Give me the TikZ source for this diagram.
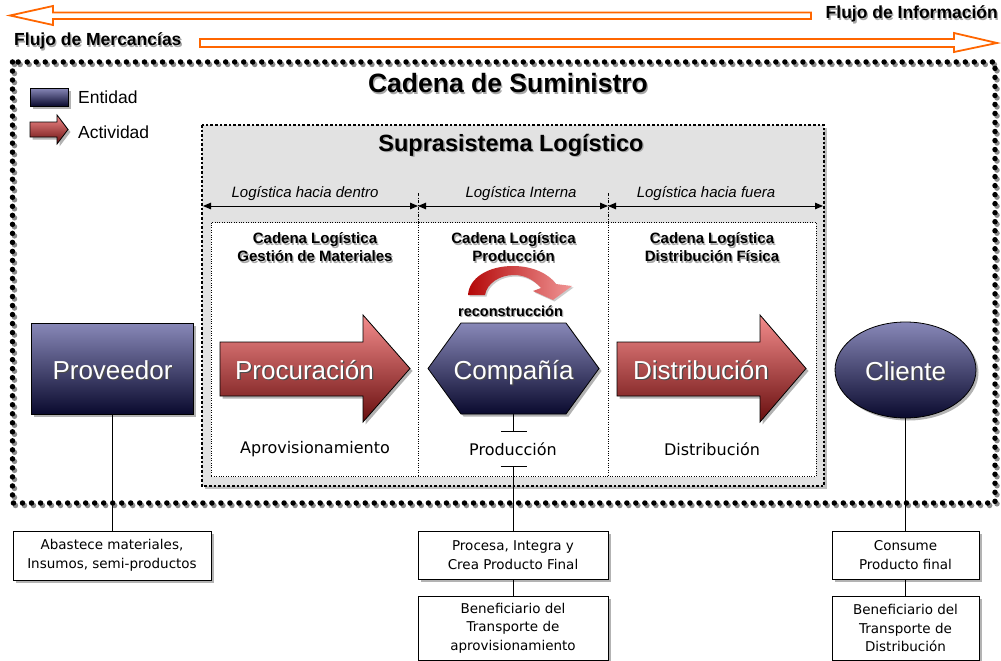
\documentclass[tikz,border=0pt]{standalone}
\usepackage{fontspec}
\setmainfont{Liberation Sans}
\newfontfamily\comic{DejaVu Sans}
\usetikzlibrary{shapes.geometric,shadows,arrows.meta}
\definecolor{entTop}{RGB}{136,136,184}
\definecolor{entBot}{RGB}{10,10,46}
\definecolor{actTop}{RGB}{244,140,140}
\definecolor{actBot}{RGB}{104,14,14}
\definecolor{recL}{RGB}{180,8,8}
\definecolor{recR}{RGB}{240,150,150}
\definecolor{flow}{RGB}{255,102,0}
\definecolor{supra}{RGB}{226,226,226}
\newcommand{\dsh}[2][black!35]{\leavevmode\rlap{\kern1.3pt\raisebox{-1.3pt}{\textcolor{#1}{#2}}}#2}
\newcommand{\wsh}[1]{\dsh[black!70]{#1}}
\tikzset{
  shsh/.style={drop shadow={shadow xshift=2.5pt,shadow yshift=-2.5pt,fill=black!50,opacity=0.6}},
  entity/.style={shsh,draw=black,line width=0.8pt,top color=entTop,bottom color=entBot},
  activity/.style={shsh,draw=black,line width=0.8pt,top color=actTop,bottom color=actBot},
  bigwhite/.style={inner sep=0pt,anchor=base,text=white,font=\fontsize{26}{30}\selectfont},
  flowarrow/.style={draw=flow,line width=1.8pt,fill=white,line join=miter},
  dimarrow/.style={line width=1pt,{Triangle[length=8pt,width=6.5pt]}-{Triangle[length=8pt,width=6.5pt]}},
  italabel/.style={inner sep=0pt,font=\itshape\fontsize{15}{18}\selectfont},
  colhead/.style={inner sep=0pt,align=center,font=\bfseries\fontsize{15}{18}\selectfont},
  comiclabel/.style={inner sep=0pt,font=\comic\fontsize{16}{19}\selectfont},
  infobox/.style={shsh,draw=black,line width=0.9pt,fill=white,align=center,inner sep=0pt,
    font=\comic\fontsize{13.5}{18.5}\selectfont},
  conn/.style={line width=0.9pt,black},
  legtext/.style={inner sep=0pt,anchor=west,font=\fontsize{17.5}{20}\selectfont},
}
\begin{document}
\begin{tikzpicture}[x=1pt,y=-1pt]
\useasboundingbox (0,0) rectangle (1001,661);

% ---- flow arrows ----
\path[flowarrow] (10,15.5) -- (53,6) -- (53,12.5) -- (811,12.5) -- (811,19) -- (53,19) -- (53,25) -- cycle;
\node[inner sep=0pt,anchor=east,font=\bfseries\fontsize{17.5}{20}\selectfont] (finfo) at (998,15) {\dsh{Flujo de Información}};
\path[flowarrow] (200,39) -- (954,39) -- (954,33) -- (997,43) -- (954,52) -- (954,47) -- (200,47) -- cycle;
\node[inner sep=0pt,anchor=west,font=\bfseries\fontsize{17.5}{20}\selectfont] (fmerc) at (14,42) {\dsh{Flujo de Mercancías}};

% ---- outer dotted border ----
\draw[black!45,line width=5.5pt,line cap=round,dash pattern=on 0pt off 9.02pt] (14.5,64.5) rectangle (997,505.5);
\draw[black,line width=5.5pt,line cap=round,dash pattern=on 0pt off 9.02pt] (12.5,62) rectangle (995,503);
\node[inner sep=0pt,font=\bfseries\fontsize{26.5}{30}\selectfont] (title) at (508,84) {\dsh{Cadena de Suministro}};

% ---- legend ----
\node[entity,minimum width=38pt,minimum height=18pt,inner sep=0pt] (legE) at (49,97) {};
\node[legtext] (legEt) at (78,97) {Entidad};
\path[activity] (30,122) -- (57,122) -- (57,115) -- (68,129.5) -- (57,144) -- (57,137) -- (30,137) -- cycle;
\node[inner sep=0pt,minimum width=38pt,minimum height=29pt] (legA) at (49,129.5) {};
\node[legtext] (legAt) at (78,132) {Actividad};

% ---- suprasistema ----
\path[drop shadow={shadow xshift=3pt,shadow yshift=-3pt,fill=black!25,opacity=1},fill=supra] (202,125) rectangle (824,486);
\draw[line width=2.6pt,dash pattern=on 2.6pt off 2pt] (202,125) rectangle (824,486);
\node[inner sep=0pt,font=\bfseries\fontsize{23.5}{27}\selectfont] (supt) at (511,146) {\dsh{Suprasistema Logístico}};

\draw[line width=0.7pt,dash pattern=on 3pt off 1.5pt on 1pt off 1.5pt] (418,193) -- (418,222.5);
\draw[line width=0.7pt,dash pattern=on 3pt off 1.5pt on 1pt off 1.5pt] (608,193) -- (608,222.5);
\draw[dimarrow] (203,206) -- (418,206);
\draw[dimarrow] (418,206) -- (608,206);
\draw[dimarrow] (608,206) -- (823,206);
\node[italabel] (l1) at (305,194) {Logística hacia dentro};
\node[italabel] (l2) at (521,194) {Logística Interna};
\node[italabel] (l3) at (706,194) {Logística hacia fuera};

\draw[line width=0.9pt,dash pattern=on 0.9pt off 1.5pt,fill=white] (211,222.5) rectangle (816,476.5);
\draw[line width=0.9pt,dash pattern=on 0.9pt off 1.5pt] (418,222.5) -- (418,476.5);
\draw[line width=0.9pt,dash pattern=on 0.9pt off 1.5pt] (608,222.5) -- (608,476.5);

\node[colhead] (h1) at (315,248) {\dsh{Cadena Logística}\\\dsh{Gestión de Materiales}};
\node[colhead] (h2) at (513.5,248) {\dsh{Cadena Logística}\\\dsh{Producción}};
\node[colhead] (h3) at (712,248) {\dsh{Cadena Logística}\\\dsh{Distribución Física}};

% ---- reconstruccion arrow ----
\path[drop shadow={shadow xshift=1.5pt,shadow yshift=-1.5pt,fill=black!40,opacity=0.5},left color=recL,right color=recR]
  (468,295) .. controls (469,278) and (488,266) .. (513,266)
  .. controls (533,266) and (549,274) .. (556,284) -- (572,286) -- (553,300) -- (533,291) -- (541,288)
  .. controls (534,280) and (525,275) .. (514,275)
  .. controls (500,275) and (487,283) .. (485,295) -- cycle;
\node[inner sep=0pt,font=\bfseries\fontsize{14.5}{17}\selectfont] (recon) at (510.5,312) {\dsh{reconstrucción}};

% ---- main shapes ----
\node[entity,minimum width=162pt,minimum height=91pt,inner sep=0pt] (prov) at (112,368.5) {};
\node[bigwhite] (provt) at (112.5,379) {\wsh{Proveedor}};

\path[activity] (220,342) -- (363,342) -- (363,315) -- (410,368.5) -- (363,422) -- (363,396) -- (220,396) -- cycle;
\node[inner sep=0pt,minimum width=190pt,minimum height=107pt] (proc) at (315,368.5) {};
\node[bigwhite] (proct) at (304.5,379) {\wsh{Procuración}};

\path[entity] (461,323) -- (566,323) -- (599,368.5) -- (566,414) -- (461,414) -- (428,368.5) -- cycle;
\node[inner sep=0pt,minimum width=171pt,minimum height=91pt] (comp) at (513.5,368.5) {};
\node[bigwhite] (compt) at (513.5,379) {\wsh{Compañía}};

\path[activity] (617,342) -- (760,342) -- (760,315) -- (806,368.5) -- (760,422) -- (760,396) -- (617,396) -- cycle;
\node[inner sep=0pt,minimum width=189pt,minimum height=107pt] (dist) at (711.5,368.5) {};
\node[bigwhite] (distt) at (701,379) {\wsh{Distribución}};

\node[entity,ellipse,minimum width=141pt,minimum height=96pt,inner sep=0pt] (cli) at (905.5,370) {};
\node[bigwhite] (clit) at (905.5,380) {\wsh{Cliente}};

% ---- lower labels ----
\node[comiclabel] (a1) at (315,449) {Aprovisionamiento};
\node[comiclabel] (a2) at (513,449) {Producción};
\node[comiclabel] (a3) at (712,449) {Distribución};

% ---- bottom boxes ----
\node[infobox,minimum width=198pt,minimum height=49pt] (b1) at (112,555.5) {Abastece materiales,\\Insumos, semi-productos};
\node[infobox,minimum width=190pt,minimum height=48pt] (b2) at (513,555) {Procesa, Integra y\\Crea Producto Final};
\node[infobox,minimum width=190pt,minimum height=64pt] (b3) at (513,628) {Beneficiario del\\Transporte de\\aprovisionamiento};
\node[infobox,minimum width=147pt,minimum height=48pt] (b4) at (905.5,555) {Consume\\Producto final};
\node[infobox,minimum width=147pt,minimum height=64pt] (b5) at (905.5,628) {Beneficiario del\\Transporte de\\Distribución};

% ---- connectors ----
\coordinate (t1) at (513.5,432);
\coordinate (t2) at (513.5,466);
\draw[conn] (prov.south) -- (prov.south |- b1.north);
\draw[conn,-{Bar[width=26pt,line width=0.9pt]}] (comp.south) -- (t1);
\draw[conn,{Bar[width=26pt,line width=0.9pt]}-] (t2) -- (t2 |- b2.north);
\draw[conn] (b2.south) -- (b3.north);
\draw[conn] (cli.south) -- (b4.north);
\draw[conn] (b4.south) -- (b5.north);
\end{tikzpicture}
\end{document}
